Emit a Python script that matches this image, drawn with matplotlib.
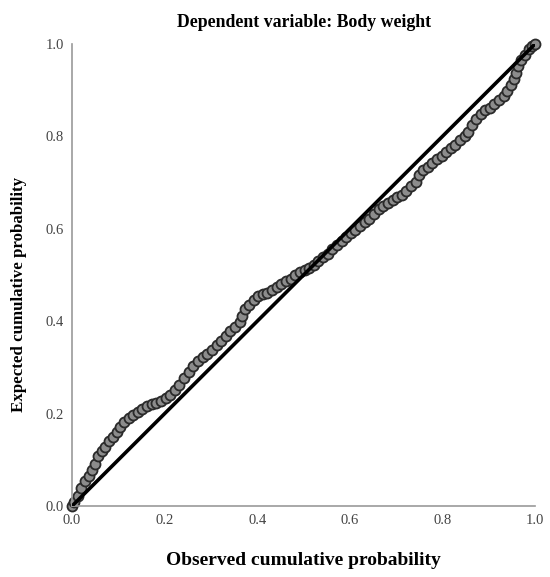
import matplotlib
matplotlib.use("Agg")
import matplotlib.pyplot as plt

# observed vs expected cumulative probability
observed = [0.000, 0.005, 0.012, 0.020, 0.028, 0.036, 0.044, 0.050, 0.056, 0.064,
            0.072, 0.080, 0.088, 0.096, 0.104, 0.112, 0.122, 0.132, 0.142, 0.152,
            0.162, 0.172, 0.182, 0.192, 0.202, 0.212, 0.222, 0.232, 0.242, 0.252,
            0.262, 0.272, 0.282, 0.292, 0.302, 0.312, 0.322, 0.332, 0.342, 0.352,
            0.362, 0.368, 0.374, 0.382, 0.392, 0.402, 0.412, 0.422, 0.432, 0.442,
            0.452, 0.462, 0.472, 0.482, 0.492, 0.502, 0.512, 0.522, 0.532, 0.542,
            0.552, 0.562, 0.572, 0.582, 0.592, 0.602, 0.612, 0.622, 0.632, 0.642,
            0.652, 0.662, 0.672, 0.682, 0.692, 0.702, 0.712, 0.722, 0.732, 0.742,
            0.750, 0.758, 0.768, 0.778, 0.788, 0.798, 0.808, 0.818, 0.828, 0.838,
            0.848, 0.856, 0.864, 0.872, 0.882, 0.892, 0.902, 0.912, 0.922, 0.932,
            0.940, 0.948, 0.954, 0.958, 0.963, 0.970, 0.978, 0.986, 0.994, 1.000]
expected = [0.000, 0.008, 0.022, 0.040, 0.055, 0.066, 0.078, 0.090, 0.108, 0.118,
            0.128, 0.140, 0.150, 0.160, 0.172, 0.182, 0.190, 0.196, 0.204, 0.210,
            0.216, 0.220, 0.224, 0.228, 0.234, 0.240, 0.250, 0.262, 0.276, 0.290,
            0.302, 0.314, 0.322, 0.330, 0.338, 0.348, 0.358, 0.368, 0.378, 0.388,
            0.398, 0.412, 0.426, 0.436, 0.446, 0.454, 0.458, 0.462, 0.468, 0.474,
            0.480, 0.486, 0.492, 0.500, 0.506, 0.510, 0.515, 0.522, 0.530, 0.538,
            0.546, 0.556, 0.564, 0.574, 0.582, 0.590, 0.598, 0.606, 0.614, 0.622,
            0.632, 0.642, 0.650, 0.656, 0.662, 0.668, 0.674, 0.682, 0.692, 0.702,
            0.716, 0.726, 0.734, 0.742, 0.750, 0.758, 0.766, 0.774, 0.782, 0.792,
            0.800, 0.810, 0.824, 0.838, 0.848, 0.856, 0.862, 0.870, 0.878, 0.888,
            0.898, 0.910, 0.924, 0.938, 0.952, 0.964, 0.976, 0.988, 0.996, 1.000]

ticks = [0.0, 0.2, 0.4, 0.6, 0.8, 1.0]
tick_labels = ["0.0", "0.2", "0.4", "0.6", "0.8", "1.0"]

plt.rcParams['font.family'] = ['Liberation Serif', 'DejaVu Serif']

fig = plt.figure(figsize=(5.5, 5.77), dpi=100)
ax = fig.add_axes([0.131, 0.123, 0.842, 0.801])

ax.scatter(observed, expected, s=52, facecolor='#8c8c8c', edgecolor='#2a2a2a',
           linewidth=1.3, zorder=2, clip_on=False)
ax.plot([0, 1], [0, 1], color='black', linewidth=2.6, zorder=3,
        solid_capstyle='butt')

ax.set_xlim(0, 1)
ax.set_ylim(0, 1)
ax.set_xticks(ticks)
ax.set_xticklabels(tick_labels)
ax.set_yticks(ticks)
ax.set_yticklabels(tick_labels)
ax.tick_params(length=0, labelsize=10.5, labelcolor='#444444', pad=6)

for side in ['top', 'right']:
    ax.spines[side].set_visible(False)
for side in ['left', 'bottom']:
    ax.spines[side].set_color('#999999')
    ax.spines[side].set_linewidth(1.2)

ax.set_title("Dependent variable: Body weight", fontsize=12.8,
             fontweight='bold', pad=12)
ax.set_xlabel("Observed cumulative probability", fontsize=14,
              fontweight='bold', labelpad=18)
ax.set_ylabel("Expected cumulative probability", fontsize=12.2,
              fontweight='bold')
ax.yaxis.set_label_coords(-0.098, 0.457)

fig.savefig("out.png", dpi=100)
